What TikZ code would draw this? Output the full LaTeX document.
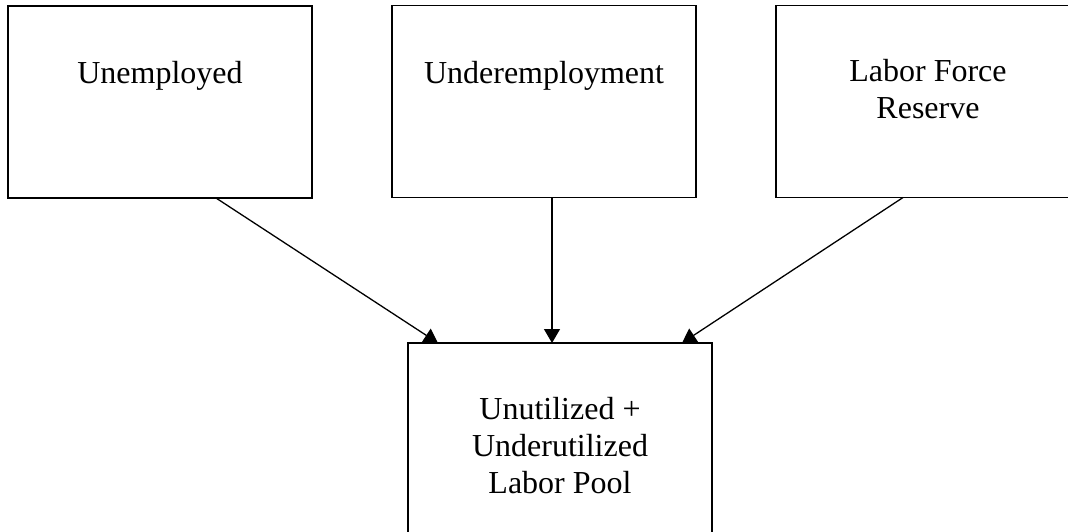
\documentclass[tikz,border=0pt]{standalone}
\usepackage{fontspec}
\setmainfont{Liberation Serif}
\usetikzlibrary{arrows.meta}
\begin{document}
\begin{tikzpicture}[x=1pt,y=-1pt,
  box/.style={draw,line width=1.8pt,minimum width=304pt,minimum height=192pt,inner sep=0pt,outer sep=0pt},
  lbl/.style={anchor=base,align=center,inner sep=0pt,font=\fontsize{32pt}{37pt}\selectfont},
  conn/.style={line width=1.3pt,-{Triangle[length=14pt,width=16pt]}}]
\useasboundingbox (0,0) rectangle (1068,531);
\clip (0,0) rectangle (1068,531);
\node[box] (u) at (160,102) {};
\node[box] (m) at (544,101.5) {};
\node[box] (r) at (928,101.5) {};
\node[box] (p) at (560,439) {};
\node[lbl] (tu) at (160,83) {Unemployed};
\node[lbl] (tm) at (544,83) {Underemployment};
\node[lbl] (tr) at (928,118) {Labor Force\\Reserve};
\node[lbl] (tp) at (560,493) {Unutilized +\\Underutilized\\Labor Pool};
\draw[conn] ([xshift=56pt]u.south) -- ([xshift=-122pt]p.north);
\draw[conn] ([xshift=8pt]m.south) -- ([xshift=-8pt]p.north);
\draw[conn] ([xshift=-25pt]r.south) -- ([xshift=122pt]p.north);
\end{tikzpicture}
\end{document}
